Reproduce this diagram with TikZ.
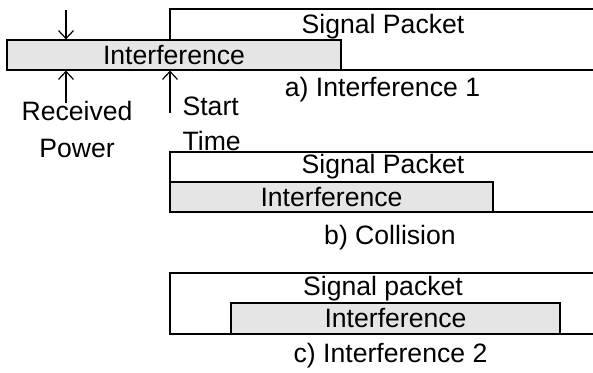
\documentclass[tikz,border=0pt]{standalone}
\usepackage{fontspec}
\setmainfont{Liberation Sans}
\usetikzlibrary{positioning,arrows.meta}

\begin{document}
\begin{tikzpicture}[x=0.5pt,y=-0.5pt,line width=0.6pt,
  intf/.style = {draw, fill=gray!20, inner sep=0pt, font=\fontsize{13.3}{15}\selectfont},
  txt/.style = {inner sep=0pt, font=\fontsize{13.3}{15}\selectfont},
  arr/.style = {-{Straight Barb[length=4pt,width=7.5pt]}}]
\useasboundingbox (0,0) rectangle (593,373);
\draw (593,9) -| (170,70) -- (593,70);
\draw (593,152) -| (170,212) -- (593,212);
\draw (593,273) -| (170,334) -- (593,334);
\node[intf, minimum width=167pt, minimum height=15pt] (intA) at (174,55) {Interference};
\node[intf, minimum width=161.5pt, minimum height=15pt] (intB) at (331.5,197) {Interference};
\node[intf, minimum width=164.5pt, minimum height=15.5pt] (intC) at (395.5,318.5) {Interference};
\node[txt] (pktA) at (383,26.5) {Signal Packet};
\node[txt] (pktB) at (383,166.5) {Signal Packet};
\node[txt] (pktC) at (383,289) {Signal packet};
\node[txt] (capA) at (382.5,90) {a) Interference 1};
\node[txt] (capB) at (390,237.5) {b) Collision};
\node[txt] (capC) at (390.5,355.5) {c) Interference 2};
\node[txt, align=center, font=\fontsize{13.3}{18.3}\selectfont] (power) at (77,129.5) {Received\\Power};
\node[txt, align=left, anchor=west, font=\fontsize{13.3}{17.5}\selectfont] (start) at (182,123.5) {Start\\Time};
\coordinate (rpTop) at (66,10);
\coordinate (rpBot) at (66,103);
\coordinate (stBot) at (170,113);
\draw[arr] (rpTop) -- (rpTop |- intA.north);
\draw[arr] (rpBot) -- (rpBot |- intA.south);
\draw[arr] (stBot) -- (stBot |- intA.south);
\end{tikzpicture}
\end{document}
